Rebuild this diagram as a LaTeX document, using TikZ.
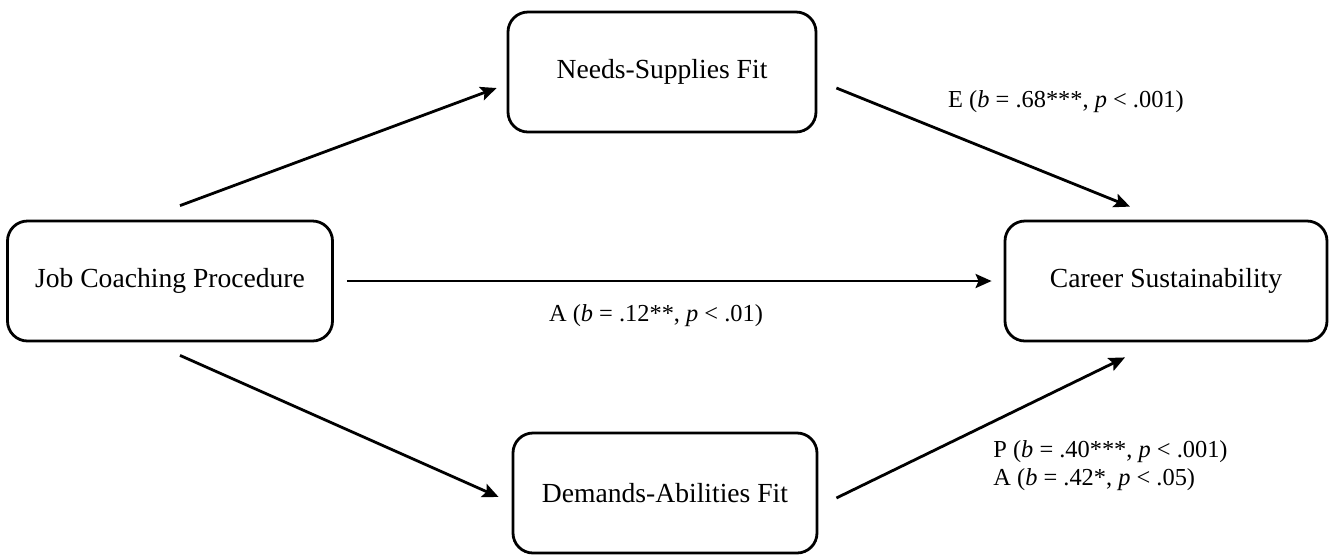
\documentclass[tikz,border=0pt]{standalone}
\usepackage{fontspec}
\setmainfont{Liberation Serif}
\usetikzlibrary{shapes,arrows.meta}

\begin{document}
\begin{tikzpicture}[x=0.5pt,y=-0.5pt,
  box/.style={draw,rounded corners=10pt,line width=1.4pt,minimum height=60pt,font=\fontsize{13.8}{16}\selectfont},
  arr/.style={line width=1.4pt,-{Stealth[length=8pt,width=7pt,inset=1.5pt]}},
  lab/.style={font=\fontsize{12.2}{14}\selectfont}]
\useasboundingbox (0,0) rectangle (1330,554);
\node (job) [box,minimum width=162.5pt] at (170,281) {Job Coaching Procedure};
\node (needs) [box,minimum width=154pt] at (662,72) {Needs-Supplies Fit};
\node (demands) [box,minimum width=152pt] at (665,493) {Demands-Abilities Fit};
\node (career) [box,minimum width=161pt] at (1166,281) {Career Sustainability};

\draw[arr] ([xshift=5pt,yshift=7pt]job.north) -- ([xshift=-5pt,yshift=-8pt]needs.west);
\draw[arr] ([xshift=9.5pt,yshift=-8pt]needs.east) -- ([xshift=-18pt,yshift=6.5pt]career.north);
\draw[arr] ([xshift=6.5pt]job.east) -- ([xshift=-6pt]career.west);
\draw[arr] ([xshift=5pt,yshift=-6.5pt]job.south) -- ([xshift=-6.5pt,yshift=-2pt]demands.west);
\draw[arr] ([xshift=9pt,yshift=-2.5pt]demands.east) -- ([xshift=-20.5pt,yshift=-7.5pt]career.south);

\node (lE) [lab] at (1066,102) {E (\textit{b} = .68***, \textit{p} < .001)};
\node (lA) [lab] at (656,316) {A (\textit{b} = .12**, \textit{p} < .01)};
\node (lPA) [lab,align=left,anchor=west,inner sep=0pt] at (993,466) {P (\textit{b} = .40***, \textit{p} < .001)\\A (\textit{b} = .42*, \textit{p} < .05)};
\end{tikzpicture}
\end{document}
